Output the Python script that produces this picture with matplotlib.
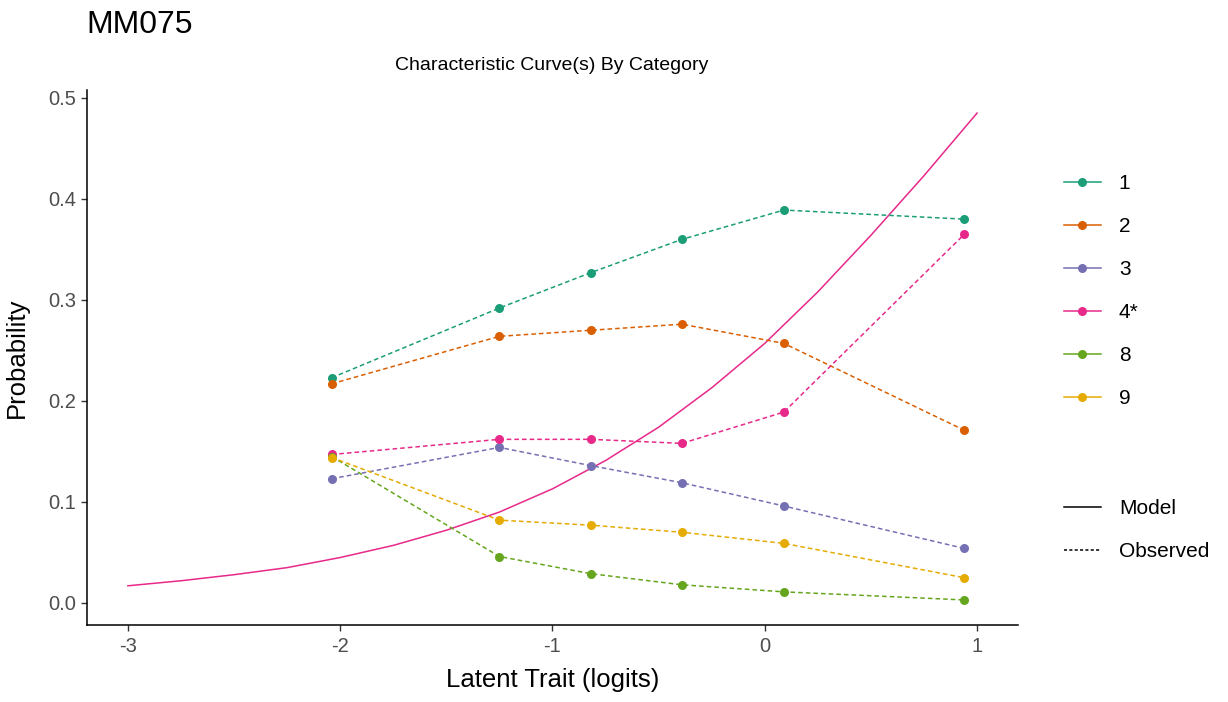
import matplotlib.pyplot as plt
from matplotlib.lines import Line2D

plt.rcParams['font.family'] = ['Liberation Sans', 'DejaVu Sans']

# observed points (latent trait group means)
theta = [-2.04, -1.25, -0.82, -0.39, 0.09, 0.94]
cat_labels = ['1', '2', '3', '4*', '8', '9']
cat_colors = ['#1B9E77', '#D95F02', '#7570B3', '#E7298A', '#66A61E', '#E6AB02']
p1 = [0.223, 0.292, 0.327, 0.360, 0.389, 0.380]
p2 = [0.217, 0.264, 0.270, 0.276, 0.257, 0.171]
p3 = [0.123, 0.154, 0.136, 0.119, 0.096, 0.054]
p4 = [0.147, 0.162, 0.162, 0.158, 0.189, 0.365]
p8 = [0.145, 0.046, 0.029, 0.018, 0.011, 0.003]
p9 = [0.144, 0.082, 0.077, 0.070, 0.059, 0.025]
observed = [p1, p2, p3, p4, p8, p9]

# model curve for the keyed category (4*)
model_x = [-3, -2.75, -2.5, -2.25, -2, -1.75, -1.5, -1.25, -1, -0.75, -0.5,
           -0.25, 0, 0.25, 0.5, 0.75, 1]
model_y = [0.017, 0.022, 0.028, 0.035, 0.045, 0.057, 0.072, 0.090, 0.113,
           0.141, 0.174, 0.213, 0.257, 0.308, 0.364, 0.423, 0.485]

fig = plt.figure(figsize=(12.28, 7.02), dpi=100)
ax = fig.add_axes([0.0708, 0.1097, 0.7582, 0.7623])

ax.plot(model_x, model_y, color='#E7298A', linewidth=1.1)
for vals, col in zip(observed, cat_colors):
    ax.plot(theta, vals, color=col, linewidth=1.1, dashes=(3, 2),
            marker='o', markersize=6.5, markeredgewidth=0)

ax.set_xlim(-3.193, 1.193)
ax.set_ylim(-0.0218, 0.508)
ax.set_xticks([-3, -2, -1, 0, 1])
ax.set_xticklabels(['-3', '-2', '-1', '0', '1'])
ax.set_yticks([0.0, 0.1, 0.2, 0.3, 0.4, 0.5])
ax.set_yticklabels(['0.0', '0.1', '0.2', '0.3', '0.4', '0.5'])
for s in ['top', 'right']:
    ax.spines[s].set_visible(False)
for s in ['left', 'bottom']:
    ax.spines[s].set_linewidth(1.1)
ax.tick_params(length=4, width=1.0, color='#333333', labelcolor='#4D4D4D',
               labelsize=14.5)
ax.tick_params(axis='x', pad=5)
ax.tick_params(axis='y', pad=3.5)

ax.set_xlabel('Latent Trait (logits)', fontsize=18.5, labelpad=8.5)
ax.set_ylabel('Probability', fontsize=18.5, labelpad=14)
fig.text(0.4495, 0.9003, 'Characteristic Curve(s) By Category', fontsize=14,
         ha='center', va='baseline')
fig.text(0.070, 0.953, 'MM075', fontsize=23, va='baseline', ha='left')

cat_handles = [Line2D([], [], color=c, marker='o', markersize=6.5,
                      markeredgewidth=0, linewidth=1.1) for c in cat_colors]
leg1 = ax.legend(cat_handles, cat_labels, loc='upper left',
                 bbox_to_anchor=(1.040, 0.858), frameon=False, fontsize=15,
                 handlelength=1.78, handletextpad=0.87, labelspacing=1.15,
                 borderaxespad=0)
ax.add_artist(leg1)

type_handles = [Line2D([], [], color='black', linewidth=1.1),
                Line2D([], [], color='black', linewidth=1.1, dashes=(2, 1.5))]
ax.legend(type_handles, ['Model', 'Observed'], loc='upper left',
          bbox_to_anchor=(1.040, 0.2505), frameon=False, fontsize=15,
          handlelength=1.78, handletextpad=0.87, labelspacing=1.15,
          borderaxespad=0)

fig.savefig('out.png', dpi=100)
